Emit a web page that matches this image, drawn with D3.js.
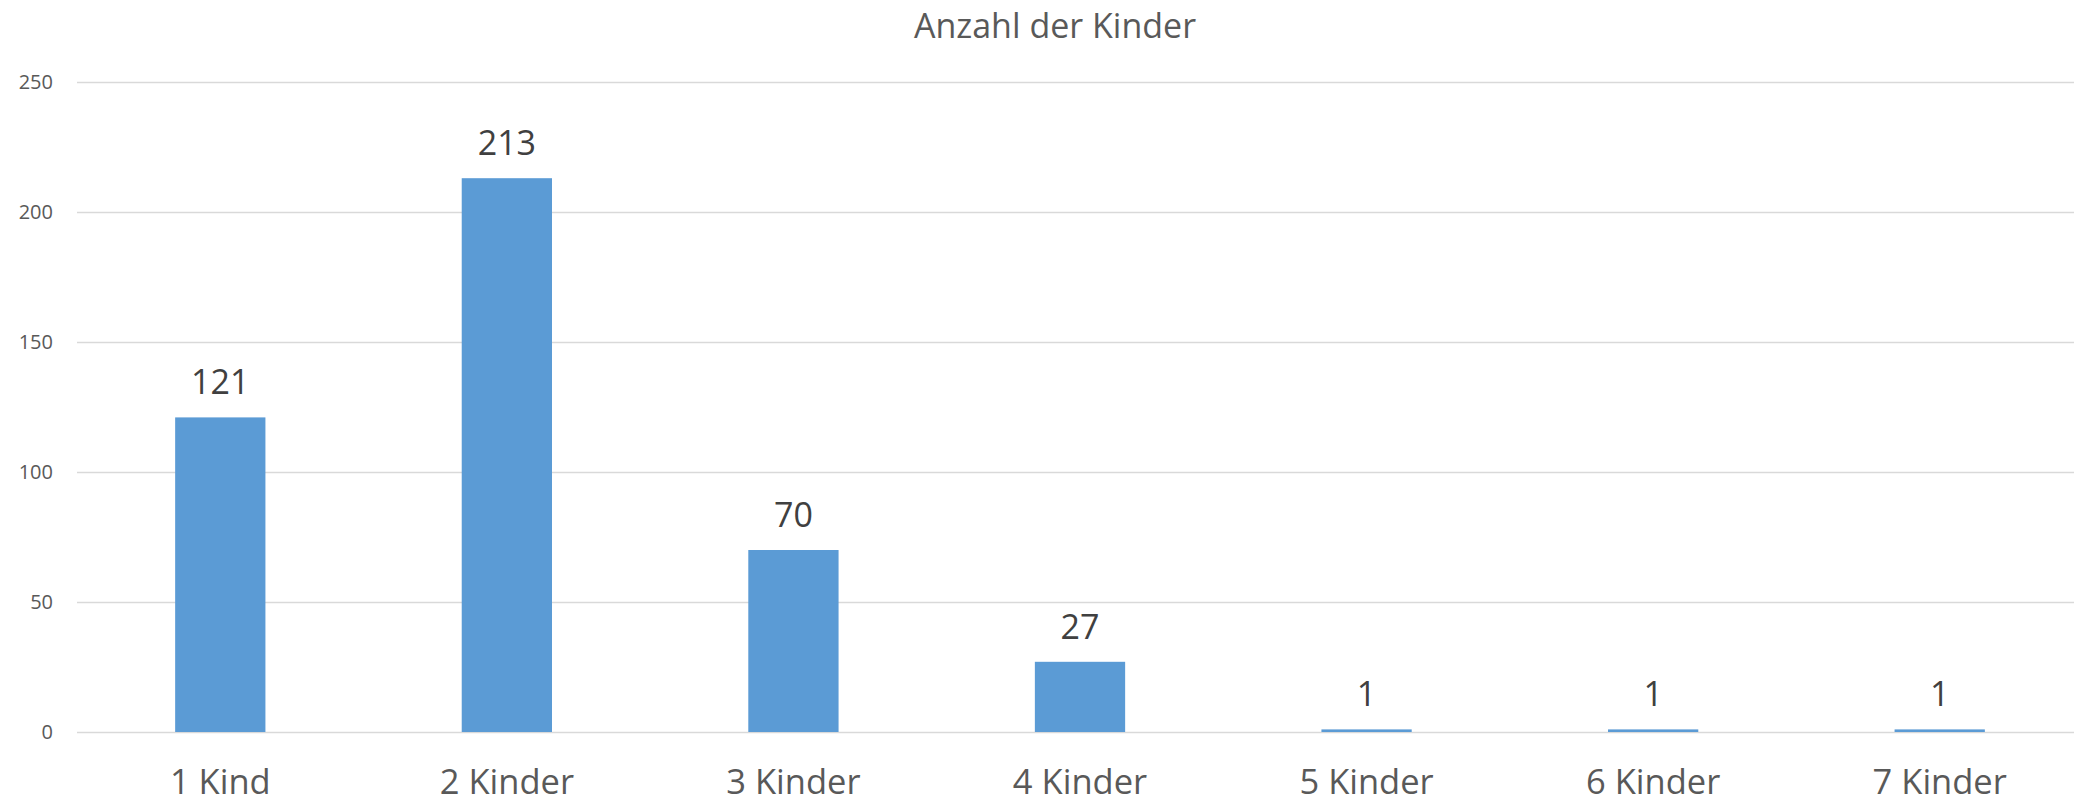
<!DOCTYPE html>
<html lang="en">
<head>
    <meta charset="UTF-8">
    <title>Anzahl der Kinder</title>
    <script src="https://d3js.org/d3.v7.min.js"></script>
    <style>
        body, html {
            margin: 0;
            padding: 0;
            background: #fff;
        }
        svg {
            display: block;
            font-family: "Open Sans", sans-serif;
        }
    </style>
</head>
<body>
    <script>
        // Chart data
        const categories = ["1 Kind", "2 Kinder", "3 Kinder", "4 Kinder", "5 Kinder", "6 Kinder", "7 Kinder"];
        const counts = [121, 213, 70, 27, 1, 1, 1];
        const yTicks = [0, 50, 100, 150, 200, 250];
        const title = "Anzahl der Kinder";

        const width = 2074;
        const height = 802;

        const svg = d3.select("body")
            .append("svg")
            .attr("width", width)
            .attr("height", height);

        // plot area
        const plotLeft = 77, plotRight = 2083, plotTop = 82, plotBottom = 732;

        const x = d3.scaleBand()
            .domain(categories)
            .range([plotLeft, plotRight])
            .paddingInner(0.685)
            .paddingOuter(0.3425);

        const y = d3.scaleLinear()
            .domain([0, 250])
            .range([plotBottom, plotTop]);

        // gridlines
        svg.append("g")
            .selectAll("line")
            .data(yTicks)
            .enter()
            .append("line")
            .attr("x1", plotLeft)
            .attr("x2", width)
            .attr("y1", d => Math.round(y(d)) + 0.5)
            .attr("y2", d => Math.round(y(d)) + 0.5)
            .attr("stroke", "#d9d9d9")
            .attr("stroke-width", 1.5);

        // y tick labels
        svg.append("g")
            .selectAll("text")
            .data(yTicks)
            .enter()
            .append("text")
            .attr("x", 53)
            .attr("y", d => y(d) + 7)
            .attr("text-anchor", "end")
            .attr("font-size", "20px")
            .attr("fill", "#595959")
            .text(d => d);

        // bars
        svg.append("g")
            .selectAll("rect")
            .data(counts)
            .enter()
            .append("rect")
            .attr("x", (d, i) => x(categories[i]))
            .attr("y", d => y(d))
            .attr("width", x.bandwidth())
            .attr("height", d => plotBottom - y(d))
            .attr("fill", "#5b9bd5");

        // value labels
        svg.append("g")
            .selectAll("text")
            .data(counts)
            .enter()
            .append("text")
            .attr("x", (d, i) => x(categories[i]) + x.bandwidth() / 2)
            .attr("y", d => y(d) - 23)
            .attr("text-anchor", "middle")
            .attr("font-size", "34px")
            .attr("fill", "#404040")
            .text(d => d);

        // category labels
        svg.append("g")
            .selectAll("text")
            .data(categories)
            .enter()
            .append("text")
            .attr("x", d => x(d) + x.bandwidth() / 2)
            .attr("y", 794)
            .attr("text-anchor", "middle")
            .attr("font-size", "34.5px")
            .attr("fill", "#595959")
            .text(d => d);

        // title
        svg.append("text")
            .attr("x", 1055)
            .attr("y", 38)
            .attr("text-anchor", "middle")
            .attr("font-size", "34px")
            .attr("fill", "#595959")
            .text(title);
    </script>
</body>
</html>
